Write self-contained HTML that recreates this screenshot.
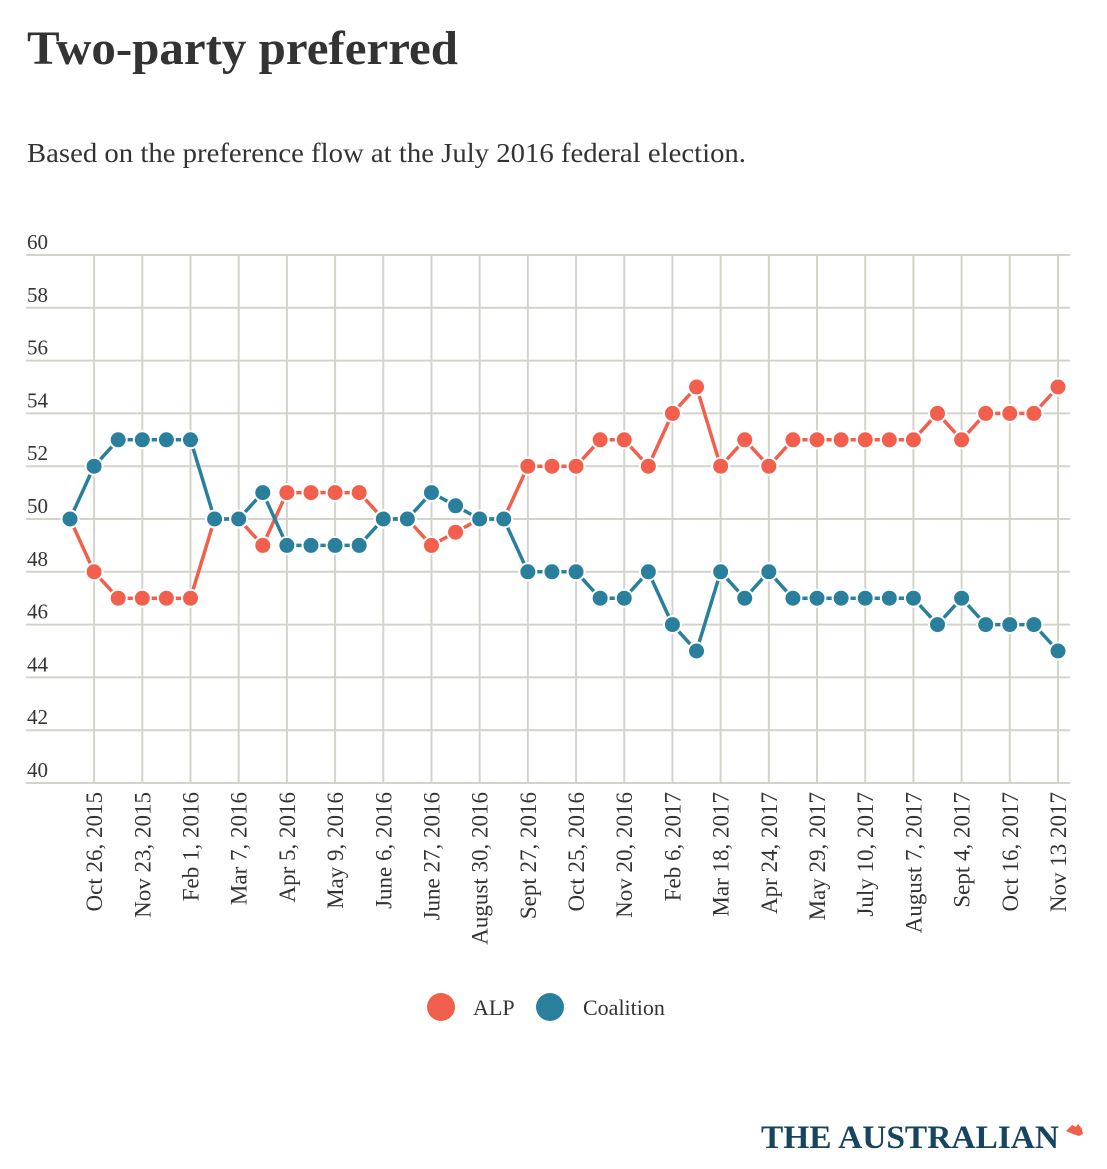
<!DOCTYPE html>
<html><head><meta charset="utf-8"><style>
body{margin:0;background:#fff;width:1107px;height:1164px;overflow:hidden;font-family:"Liberation Serif",serif;color:#333}
</style></head><body>
<svg width="1107" height="1164" xmlns="http://www.w3.org/2000/svg">
<text x="27" y="64" font-size="48" font-weight="bold" fill="#333" textLength="431" lengthAdjust="spacingAndGlyphs" font-family="Liberation Serif, serif">Two-party preferred</text>
<text x="27" y="162" font-size="27" fill="#333" textLength="719" lengthAdjust="spacingAndGlyphs" font-family="Liberation Serif, serif">Based on the preference flow at the July 2016 federal election.</text>
<g id="grid"></g><g id="lines"></g><g id="dots"></g><g id="labels"></g>
<g>
<circle cx="441" cy="1007" r="14" fill="#f25f4c"/>
<text x="473" y="1015" font-size="22" fill="#333">ALP</text>
<circle cx="550" cy="1007" r="14" fill="#2a809c"/>
<text x="583" y="1015" font-size="22" fill="#333">Coalition</text>
</g>
<g>
<text x="761" y="1148" font-size="33" font-weight="bold" fill="#17445e" textLength="298" lengthAdjust="spacingAndGlyphs" font-family="Liberation Serif, serif">THE AUSTRALIAN</text>
<path d="M1066 1131 l6 -6 l4 2 l2 -3 l4 5 l1 5 l-4 2 l-6 -2 z" fill="#f25f4c"/>
</g>
</svg>
<script>
const alp=[50,48,47,47,47,47,50,50,49,51,51,51,51,50,50,49,49.5,50,50,52,52,52,53,53,52,54,55,52,53,52,53,53,53,53,53,53,54,53,54,54,54,55];
const coalition=[50,52,53,53,53,53,50,50,51,49,49,49,49,50,50,51,50.5,50,50,48,48,48,47,47,48,46,45,48,47,48,47,47,47,47,47,47,46,47,46,46,46,45];
const dateLabels=["Oct 26, 2015","Nov 23, 2015","Feb 1, 2016","Mar 7, 2016","Apr 5, 2016","May 9, 2016","June 6, 2016","June 27, 2016","August 30, 2016","Sept 27, 2016","Oct 25, 2016","Nov 20, 2016","Feb 6, 2017","Mar 18, 2017","Apr 24, 2017","May 29, 2017","July 10, 2017","August 7, 2017","Sept 4, 2017","Oct 16, 2017","Nov 13 2017"];
const yTicks=[40,42,44,46,48,50,52,54,56,58,60];
const NS="http://www.w3.org/2000/svg";
const n=alp.length;
const x=i=>70+i*(1058-70)/(n-1);
const y=v=>783-(v-40)*(783-255)/20;
function mk(tag,attrs,parent){const e=document.createElementNS(NS,tag);for(const k in attrs)e.setAttribute(k,attrs[k]);document.getElementById(parent).appendChild(e);return e;}
yTicks.forEach(t=>{
 const l=mk('line',{x1:26,x2:1070,y1:y(t),y2:y(t),stroke:'#d4d3cb','stroke-width':2},'grid');
 
 
 const tx=mk('text',{x:27,y:y(t)-6,'font-size':21,fill:'#333','font-family':'Liberation Serif, serif'},'labels');
 tx.textContent=t;
 
 
});
dateLabels.forEach((d,j)=>{
 const xi=x(1+2*j);
 const l=mk('line',{x1:xi,x2:xi,y1:255,y2:783,stroke:'#d4d3cb','stroke-width':2},'grid');
 
 
 const tx=mk('text',{x:0,y:0,'font-size':23,fill:'#333','text-anchor':'end','font-family':'Liberation Serif, serif',transform:`translate(${xi+8},792) rotate(-90)`},'labels');
 tx.textContent=d;
 
 
});
[[alp,'#f25f4c','alp'],[coalition,'#2a809c','coalition']].forEach(([s,c,nm])=>{
 const p=mk('polyline',{points:s.map((v,i)=>x(i)+','+y(v)).join(' '),fill:'none',stroke:c,'stroke-width':3.5},'lines');
 
 
});
[[alp,'#f25f4c','alp'],[coalition,'#2a809c','coalition']].forEach(([s,c,nm])=>{
 s.forEach((v,i)=>{
  const d=mk('circle',{cx:x(i),cy:y(v),r:8.5,fill:c,stroke:'#fff','stroke-width':2},'dots');
  
  
 });
});
</script>
</body></html>
